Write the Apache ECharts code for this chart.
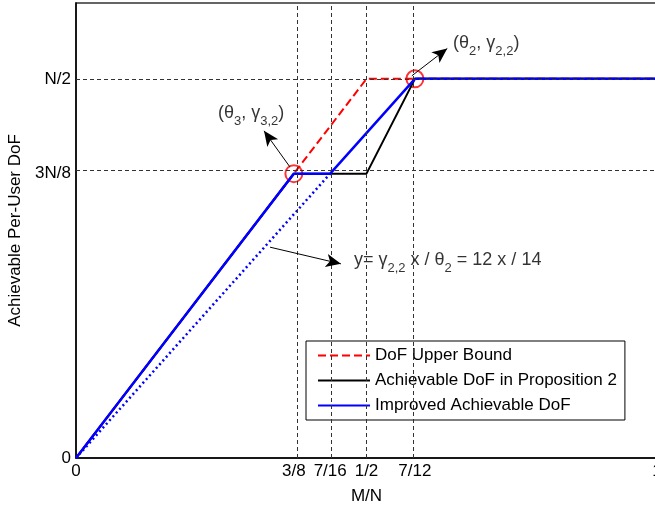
<!DOCTYPE html>
<html><head><meta charset="utf-8">
<script src="https://cdn.jsdelivr.net/npm/echarts@6/dist/echarts.min.js"></script>
<style>html,body{margin:0;padding:0;background:#fff}#c{width:655px;height:508px}</style>
</head><body><div id="c"></div>
<script>
const xTicks = [0, 3/8, 7/16, 1/2, 7/12, 1];
const xTickLabels = ['0', '3/8', '7/16', '1/2', '7/12', '1'];
const yTicks = [0, 3/8, 1/2];
const yTickLabels = ['0', '3N/8', 'N/2'];
const gridX = [3/8, 7/16, 1/2, 7/12];
const gridY = [3/8, 1/2];

const upperX = [0, 3/8, 1/2, 1];
const upperY = [0, 3/8, 1/2, 1/2];
const prop2X = [0, 3/8, 1/2, 7/12, 1];
const prop2Y = [0, 3/8, 3/8, 1/2, 1/2];
const improvedX = [0, 3/8, 7/16, 7/12, 1];
const improvedY = [0, 3/8, 3/8, 1/2, 1/2];
const refLineX = [0, 7/16];
const refLineY = [0, 3/8];
const cornerX = [3/8, 7/12];
const cornerY = [3/8, 1/2];

const arrowFrom = [[0.578, 0.504], [0.368, 0.384], [0.334, 0.278]];
const arrowTo = [[0.639, 0.540], [0.3236, 0.4314], [0.456, 0.256]];
const noteAt = [[0.649, 0.545], [0.2444, 0.4525], [0.4785, 0.2586]];
const noteText = [
  '{m|(θ}{s|2}{m|, γ}{s|2,2}{m|)}',
  '{m|(θ}{s|3}{m|, γ}{s|3,2}{m|)}',
  '{m|y= γ}{s|2,2}{m| x / θ}{s|2}{m| = 12 x / 14}'
];

const FONT = "'Liberation Sans', Arial, sans-serif";
const zip = (xs, ys) => xs.map((x, i) => [x, ys[i]]);
const tickName = (ticks, labels) => v => {
  const i = ticks.findIndex(t => Math.abs(t - v) < 1e-9);
  return i >= 0 ? labels[i] : '';
};

const chart = echarts.init(document.getElementById('c'), null, {renderer: 'canvas'});
chart.setOption({
  animation: false,
  textStyle: {fontFamily: FONT},
  grid: {left: 76, top: 3, width: 581, height: 455, outerBoundsMode: 'none', containLabel: false,
         show: true, borderColor: '#333', borderWidth: 1.5, backgroundColor: 'transparent'},
  legend: {
    orient: 'vertical', left: 306, top: 341,
    data: ['DoF Upper Bound', 'Achievable DoF in Proposition 2', 'Improved Achievable DoF'],
    backgroundColor: '#fff', borderColor: '#000', borderWidth: 1, borderRadius: 0,
    padding: [6, 8, 6, 11], itemWidth: 52, itemHeight: 14, itemGap: 8,
    itemStyle: {opacity: 0},
    textStyle: {fontSize: 17, color: '#000', fontFamily: FONT}
  },
  xAxis: {
    type: 'value', min: 0, max: 1,
    name: 'M/N', nameLocation: 'middle', nameGap: 30,
    nameTextStyle: {fontSize: 17, color: '#000', fontFamily: FONT},
    axisLine: {lineStyle: {color: '#000', width: 1.5}},
    axisTick: {show: false},
    splitLine: {show: false},
    axisLabel: {customValues: xTicks, formatter: tickName(xTicks, xTickLabels), fontSize: 17, color: '#000', margin: 5, fontFamily: FONT}
  },
  yAxis: {
    type: 'value', min: 0, max: 0.6,
    name: 'Achievable Per-User DoF', nameLocation: 'middle', nameGap: 52, nameRotate: 90,
    nameTextStyle: {fontSize: 17, color: '#000', fontFamily: FONT},
    axisLine: {lineStyle: {color: '#000', width: 1.5}},
    axisTick: {show: false},
    splitLine: {show: false},
    axisLabel: {customValues: yTicks, formatter: tickName(yTicks, yTickLabels), fontSize: 17, color: '#000', margin: 5, fontFamily: FONT}
  },
  series: [
    {
      type: 'line', data: [], silent: true,
      markLine: {
        silent: true, symbol: ['none', 'none'], label: {show: false},
        lineStyle: {color: '#333', width: 1, type: [4, 3]},
        data: gridX.map(v => ({xAxis: v})).concat(gridY.map(v => ({yAxis: v})))
      }
    },
    {
      name: 'DoF Upper Bound', type: 'line', data: zip(upperX, upperY),
      symbol: 'none', lineStyle: {color: '#ff0000', width: 2, type: [8, 4]}, itemStyle: {color: '#ff0000'}
    },
    {
      name: 'Achievable DoF in Proposition 2', type: 'line', data: zip(prop2X, prop2Y),
      symbol: 'none', lineStyle: {color: '#000', width: 2}, itemStyle: {color: '#000'}
    },
    {
      type: 'line', data: zip(refLineX, refLineY),
      symbol: 'none', lineStyle: {color: '#0000ff', width: 2.5, type: [2, 3]}
    },
    {
      name: 'Improved Achievable DoF', type: 'line', data: zip(improvedX, improvedY),
      symbol: 'none', lineStyle: {color: '#0000ff', width: 2.5}, itemStyle: {color: '#0000ff'}
    },
    {
      type: 'scatter', data: zip(cornerX, cornerY), symbol: 'circle', symbolSize: 17,
      itemStyle: {color: 'rgba(0,0,0,0)', borderColor: '#ff0000', borderWidth: 2}, silent: true
    },
    {
      type: 'line', data: [], silent: true,
      markLine: {
        silent: true, symbol: ['none', 'arrow'], symbolSize: [10, 15], label: {show: false},
        lineStyle: {color: '#000', width: 1, type: 'solid'},
        itemStyle: {color: '#000'},
        data: arrowFrom.map((p, i) => [{coord: p}, {coord: arrowTo[i]}])
      }
    },
    {
      type: 'scatter', symbolSize: 0, silent: true,
      data: noteAt.map((p, i) => ({value: p, label: {formatter: noteText[i]}})),
      label: {
        show: true, position: 'right', distance: 0, color: '#000',
        rich: {
          m: {fontSize: 18, color: '#000', fontFamily: FONT, lineHeight: 21, verticalAlign: 'top'},
          s: {fontSize: 13, color: '#000', fontFamily: FONT, lineHeight: 13, verticalAlign: 'top', padding: [11, 0, 0, 0]}
        }
      }
    }
  ]
});
</script></body></html>
